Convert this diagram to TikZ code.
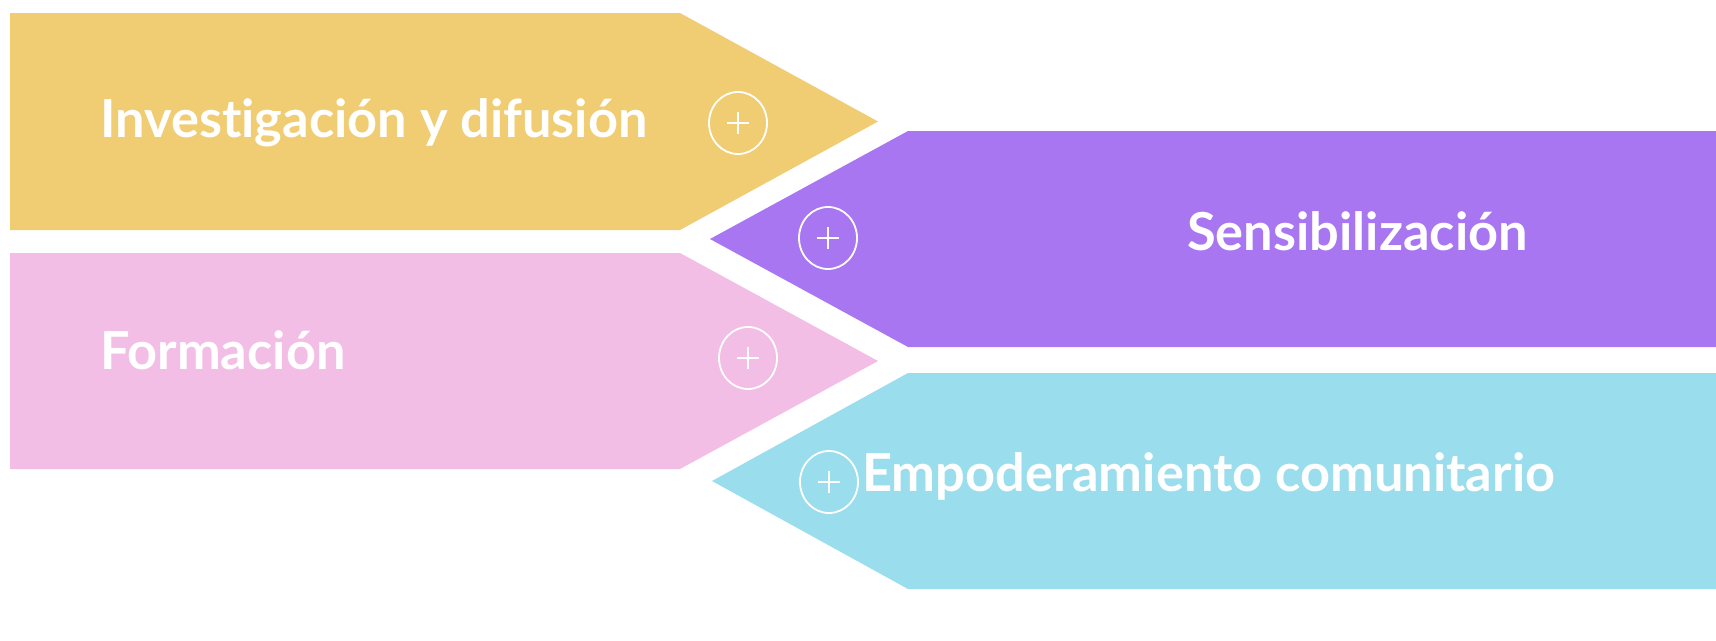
\documentclass[tikz,border=0pt]{standalone}
\usepackage{fontspec}
\setmainfont{Lato}
\definecolor{cyellow}{RGB}{240,205,115}
\definecolor{cpurple}{RGB}{168,118,240}
\definecolor{cpink}{RGB}{242,190,230}
\definecolor{ccyan}{RGB}{154,221,237}
\usetikzlibrary{shapes.geometric}
\newcommand{\biglbl}[1]{\scalebox{1.19}{#1}}
\tikzset{
  lbl/.style={text=white, inner sep=0pt, font=\fontsize{44}{50}\selectfont\bfseries},
  plusc/.style={ellipse, draw=white, line width=1.8pt, minimum width=58pt, minimum height=62pt, inner sep=0pt,
    path picture={\draw[white, line width=1.2pt]
      ([xshift=-11pt]path picture bounding box.center) -- ([xshift=11pt]path picture bounding box.center)
      ([yshift=-11pt]path picture bounding box.center) -- ([yshift=11pt]path picture bounding box.center);}}
}
\begin{document}
\begin{tikzpicture}[x=1pt,y=-1pt]
\useasboundingbox[fill=white] (0,0) rectangle (1716,640);
% shapes
\fill[cyellow] (10,13) -- (680,13) -- (878,121.5) -- (680,230) -- (10,230) -- cycle;
\fill[cpurple] (1716,131) -- (908,131) -- (710,239) -- (908,347) -- (1716,347) -- cycle;
\fill[cpink] (10,253) -- (680,253) -- (878,361) -- (680,469) -- (10,469) -- cycle;
\fill[ccyan] (1716,373) -- (908,373) -- (712,481) -- (908,589) -- (1716,589) -- cycle;
% circles
\node[plusc] (c1) at (738,123) {};
\node[plusc] (c2) at (828,238) {};
\node[plusc] (c3) at (748,358) {};
\node[plusc] (c4) at (829,482) {};
% labels
\node[lbl, anchor=base west] (t1) at (100,137) {\biglbl{Invest\kern0pt igación y difusión}};
\node[lbl, anchor=base east] (t2) at (1528,250) {\biglbl{Sensibilización}};
\node[lbl, anchor=base west] (t3) at (100,369) {\biglbl{Formación}};
\node[lbl, anchor=base west] (t4) at (862,491) {\biglbl{Empoderamiento comunitario}};
\end{tikzpicture}
\end{document}
